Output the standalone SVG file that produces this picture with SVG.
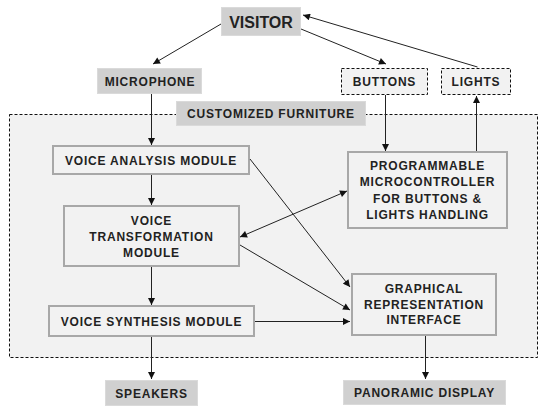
<svg xmlns="http://www.w3.org/2000/svg" width="547" height="414" viewBox="0 0 547 414">
<style>
text{font-family:"Liberation Sans",Arial,sans-serif;font-weight:bold;font-size:12px;letter-spacing:0.8px;fill:#222;text-anchor:middle}
.lbl{fill:#d0d0d0;stroke:#dadada;stroke-width:1}
.mod{fill:#f2f2f2;stroke:#a8a8a8;stroke-width:2}
.dash{fill:#f2f2f2;stroke:#111;stroke-width:1;stroke-dasharray:3,2}
.c{stroke:#222;stroke-width:1;fill:none}
.m{fill:#f2f2f2;color:#333}
</style>
<defs>
<marker id="a" viewBox="0 0 10 10" refX="10" refY="5" markerWidth="9" markerHeight="7" markerUnits="userSpaceOnUse" orient="auto-start-reverse"><path d="M0,0L10,5L0,10z" fill="#111"/></marker>
</defs>
<rect width="547" height="414" fill="#fff"/>
<g id="furniture">
<rect class="dash" x="9.5" y="114.5" width="528" height="243"/>
</g>
<g id="visitor"><rect class="lbl" x="221.5" y="7.5" width="79" height="28"/><text x="261" y="27.5" style="font-size:16px;letter-spacing:0">VISITOR</text></g>
<g id="microphone"><rect class="lbl" x="97.5" y="68.5" width="104" height="25"/><text x="150" y="85.5">MICROPHONE</text></g>
<g id="buttons"><rect class="dash" x="341.5" y="68.5" width="86" height="26"/><text x="384.5" y="86">BUTTONS</text></g>
<g id="lights"><rect class="dash" x="441.5" y="68.5" width="69" height="26"/><text x="476" y="86">LIGHTS</text></g>
<g id="customized"><rect class="lbl" x="176.5" y="101.5" width="189" height="24"/><text x="271" y="118">CUSTOMIZED FURNITURE</text></g>
<g id="analysis"><rect class="mod" x="53" y="146" width="196" height="28"/><text x="151" y="164.5">VOICE ANALYSIS MODULE</text></g>
<g id="transformation"><rect class="mod" x="64" y="206" width="175" height="60"/><text x="151.5" y="224.5">VOICE</text><text x="151.5" y="240.8">TRANSFORMATION</text><text x="151.5" y="257">MODULE</text></g>
<g id="microcontroller"><rect class="mod" x="348" y="152" width="159" height="76"/><text x="427.5" y="169.8">PROGRAMMABLE</text><text x="427.5" y="186">MICROCONTROLLER</text><text x="427.5" y="202.5">FOR BUTTONS &amp;</text><text x="427.5" y="218.5">LIGHTS HANDLING</text></g>
<g id="synthesis"><rect class="mod" x="49" y="306" width="205" height="30"/><text x="151.5" y="325.5">VOICE SYNTHESIS MODULE</text></g>
<g id="graphical"><rect class="mod" x="352" y="274" width="144" height="61"/><text x="424" y="292.5">GRAPHICAL</text><text x="424" y="308.5">REPRESENTATION</text><text x="424" y="323.8">INTERFACE</text></g>
<g id="speakers"><rect class="lbl" x="105.5" y="380.5" width="92" height="25"/><text x="151.5" y="397.5">SPEAKERS</text></g>
<g id="panoramic"><rect class="lbl" x="343.5" y="380.5" width="162" height="24"/><text x="424.5" y="397">PANORAMIC DISPLAY</text></g>
<g id="connectors">
<line class="c" x1="221" y1="24" x2="153" y2="64" marker-end="url(#a)"/>
<line class="c" x1="301" y1="29" x2="386" y2="64" marker-end="url(#a)"/>
<line class="c" x1="477.5" y1="67" x2="303" y2="15" marker-end="url(#a)"/>
<line class="c" x1="151.5" y1="94" x2="151.5" y2="145" marker-end="url(#a)"/>
<line class="c" x1="385.5" y1="95" x2="385.5" y2="151" marker-end="url(#a)"/>
<line class="c" x1="476.5" y1="151" x2="476.5" y2="96" marker-end="url(#a)"/>
<line class="c" x1="151.5" y1="175" x2="151.5" y2="205" marker-end="url(#a)"/>
<line class="c" x1="240" y1="237" x2="347" y2="191" marker-start="url(#a)" marker-end="url(#a)"/>
<line class="c" x1="250" y1="159" x2="350" y2="287" marker-end="url(#a)"/>
<line class="c" x1="240" y1="245" x2="350" y2="310" marker-end="url(#a)"/>
<line class="c" x1="151.5" y1="267" x2="151.5" y2="305" marker-end="url(#a)"/>
<line class="c" x1="255" y1="321.5" x2="350" y2="321.5" marker-end="url(#a)"/>
<line class="c" x1="151.5" y1="337" x2="151.5" y2="379" marker-end="url(#a)"/>
<line class="c" x1="425.5" y1="336" x2="425.5" y2="379" marker-end="url(#a)"/>
</g>
</svg>
